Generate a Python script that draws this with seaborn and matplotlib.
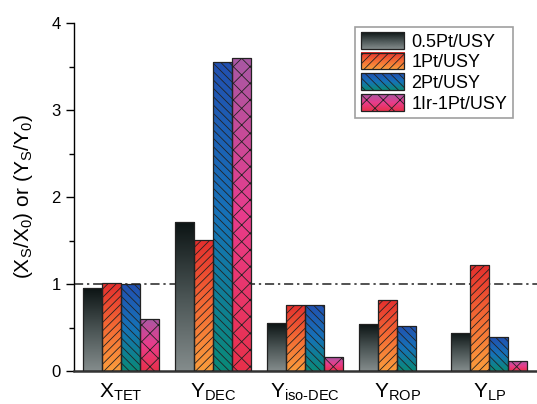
import numpy as np
import pandas as pd
import matplotlib
matplotlib.use("Agg")
import matplotlib.pyplot as plt
import seaborn as sns
from matplotlib.colors import LinearSegmentedColormap
from matplotlib.legend_handler import HandlerBase
from matplotlib.image import BboxImage
from matplotlib.transforms import Bbox, TransformedBbox
from matplotlib.patches import Rectangle

categories = [r"X$_{\mathregular{TET}}$", r"Y$_{\mathregular{DEC}}$", r"Y$_{\mathregular{iso\text{-}DEC}}$",
              r"Y$_{\mathregular{ROP}}$", r"Y$_{\mathregular{LP}}$"]
catalysts = ["0.5Pt/USY", "1Pt/USY", "2Pt/USY", "1Ir-1Pt/USY"]
v_05pt = [0.95, 1.71, 0.55, 0.54, 0.44]
v_1pt = [1.01, 1.51, 0.76, 0.82, 1.22]
v_2pt = [1.00, 3.55, 0.76, 0.52, 0.39]
v_1ir1pt = [0.60, 3.60, 0.16, 0.00, 0.11]

# gradient stops (bottom -> top) and hatches for each catalyst
grad_stops = [
    ["#848c8c", "#4a5454", "#0c1414"],
    ["#fa9c3c", "#f46a34", "#e42e2e"],
    ["#0a8a78", "#1672b8", "#2250b0"],
    ["#e8304a", "#e83c8c", "#a858a4"],
]
hatches = ["", "////", "\\\\\\\\", "xx"]

plt.rcParams["font.family"] = ["Liberation Sans", "DejaVu Sans"]
plt.rcParams["mathtext.fontset"] = "custom"
plt.rcParams["mathtext.rm"] = "Liberation Sans"
plt.rcParams["mathtext.it"] = "Liberation Sans:italic"
plt.rcParams["hatch.linewidth"] = 0.6

df = pd.DataFrame({
    "cat": [c for c in categories for _ in catalysts],
    "catalyst": catalysts * len(categories),
    "value": [v for vals in zip(v_05pt, v_1pt, v_2pt, v_1ir1pt) for v in vals],
})

cmaps = [LinearSegmentedColormap.from_list(f"g{i}", s) for i, s in enumerate(grad_stops)]
grad = np.linspace(1, 0, 256).reshape(-1, 1)

fig = plt.figure(figsize=(5.37, 4.04), dpi=100)
ax = fig.add_axes([74 / 537, 33 / 404, 463 / 537, 348 / 404])

sns.barplot(data=df, x="cat", y="value", hue="catalyst", order=categories,
            hue_order=catalysts, width=0.83, gap=0, legend=False, ax=ax,
            edgecolor="#222222", linewidth=0.9, errorbar=None)

for i, cat in enumerate(catalysts):
    bars = ax.containers[i]
    for p in bars.patches:
        p.set_facecolor("none")
        p.set_hatch(hatches[i])
        p.set_zorder(3)
        h = p.get_height()
        if h <= 0:
            p.set_visible(False)
            continue
        x0 = p.get_x()
        w = p.get_width()
        im = ax.imshow(grad, extent=[x0, x0 + w, 0, h], aspect="auto", cmap=cmaps[i],
                       origin="upper", zorder=2, interpolation="bicubic")
        im.set_clip_path(p)

ax.axhline(1.0, color="#222222", lw=1.1, ls=(0, (6, 2.5, 1.5, 2.5)), zorder=1)

ax.set_xlim(-0.51, 4.52)
ax.set_ylim(0, 4)
ax.set_yticks([0, 1, 2, 3, 4])
ax.set_yticks([0.5, 1.5, 2.5, 3.5], minor=True)
ax.tick_params(axis="y", which="major", direction="out", length=6, width=1, labelsize=12)
ax.tick_params(axis="y", which="minor", direction="out", length=3.5, width=1)
ax.tick_params(axis="x", length=0, labelsize=15, pad=8)
for s in ["top", "right"]:
    ax.spines[s].set_visible(False)
ax.spines["left"].set_linewidth(1.0)
ax.spines["bottom"].set_linewidth(1.8)
ax.spines["bottom"].set_color("#333333")
ax.set_xlabel("")
ax.set_ylabel(r"(X$_{\mathregular{S}}$/X$_{\mathregular{0}}$) or (Y$_{\mathregular{S}}$/Y$_{\mathregular{0}}$)",
              fontsize=15, labelpad=12)


class GradientHandler(HandlerBase):
    def __init__(self, cmap, hatch):
        super().__init__()
        self.cmap = cmap
        self.hatch = hatch

    def create_artists(self, legend, orig_handle, xdescent, ydescent, width, height, fontsize, trans):
        bb = TransformedBbox(Bbox.from_bounds(-xdescent, -ydescent, width, height), trans)
        img = BboxImage(bb, cmap=self.cmap, interpolation="bicubic")
        img.set_data(grad)
        rect = Rectangle((-xdescent, -ydescent), width, height, facecolor="none",
                         edgecolor="#222222", hatch=self.hatch, lw=0.9, transform=trans)
        return [img, rect]


handles = [Rectangle((0, 0), 1, 1) for _ in catalysts]
handler_map = {h: GradientHandler(cmaps[i], hatches[i]) for i, h in enumerate(handles)}
leg = ax.legend(handles, catalysts, handler_map=handler_map, loc="upper right",
                bbox_to_anchor=(0.955, 1.0), fontsize=13, frameon=True, fancybox=False,
                edgecolor="#888888", handlelength=2.4, handleheight=1.05, labelspacing=0.12,
                handletextpad=0.4, borderpad=0.3, borderaxespad=0.2)
leg.get_frame().set_linewidth(1.2)

fig.savefig("out.png", dpi=100)
